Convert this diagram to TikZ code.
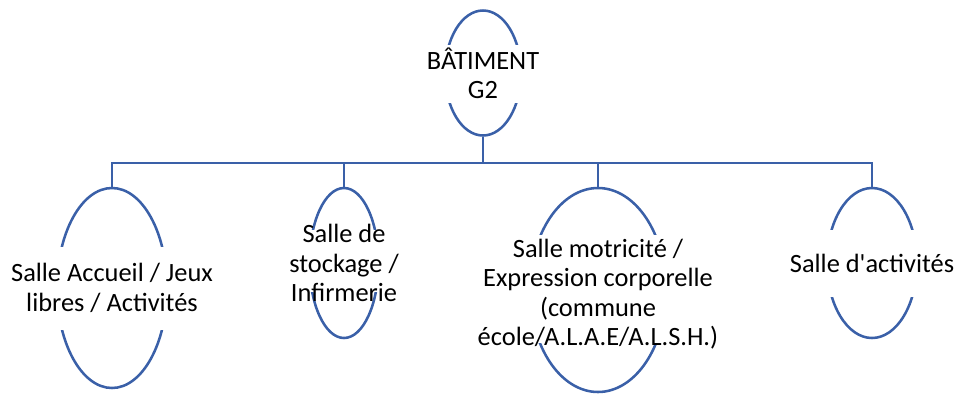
\documentclass[tikz,border=0pt]{standalone}
\usepackage{fontspec}
\setmainfont{Carlito}
\usepackage{tikz}
\usetikzlibrary{positioning,shapes.geometric}
\definecolor{hierblue}{HTML}{3A60A8}

\begin{document}
\begin{tikzpicture}[
    x=0.75pt, y=-0.75pt,
    room/.style={
        ellipse,
        draw=hierblue,
        line width=1.9pt,
        inner sep=0pt
        },
    gap/.style={
        fill=white,
        inner sep=0pt,
        minimum height=#1
        },
    label/.style={
        align=center,
        inner sep=0pt,
        font=\fontsize{19.8}{22}\selectfont
        },
    link/.style={draw=hierblue, line width=1.9pt}
    ]
    \useasboundingbox (0,0) rectangle (958,394);

    % ellipses
    \node[room, minimum width=57pt, minimum height=93.75pt] (batiment) at (483,73) {};
    \node[room, minimum width=82.5pt, minimum height=150pt] (accueil) at (112,288) {};
    \node[room, minimum width=51.75pt, minimum height=112.5pt] (stockage) at (344,263) {};
    \node[room, minimum width=102pt, minimum height=153pt] (motricite) at (598,290) {};
    \node[room, minimum width=67.5pt, minimum height=112.5pt] (activites) at (872,263) {};

    % white band behind the texts
    \node[gap=43.5pt, minimum width=70pt] (batiment gap) at (483,74) {};
    \node[gap=62.25pt, minimum width=95pt] (accueil gap) at (112,288.5) {};
    \node[gap=46.5pt, minimum width=65pt] (stockage gap) at (344,261) {};
    \node[gap=81pt, minimum width=115pt] (motricite gap) at (598,289) {};
    \node[gap=50.25pt, minimum width=80pt] (activites gap) at (872,263.5) {};

    \node[label] (batiment text) at (batiment) {BÂTIMENT\\G2};
    \node[label] (accueil text) at (accueil) {Salle Accueil / Jeux\\libres / Activités};
    \node[label] (stockage text) at (stockage) {Salle de\\stockage /\\Infirmerie};
    \node[label] (motricite text) at ([yshift=-3pt]motricite) {Salle motricité /\\Expression corporelle\\(commune\\école/A.L.A.E/A.L.S.H.)};
    \node[label] (activites text) at (activites) {Salle d\textquotesingle activités};

    \coordinate (bar) at (483,163);
    \path[link]
    (batiment.south) -- (bar)
    (accueil.north) |- (activites.north |- bar) -- (activites.north)
    (stockage.north) -- (stockage.north |- bar)
    (motricite.north) -- (motricite.north |- bar)
    ;
\end{tikzpicture}
\end{document}
